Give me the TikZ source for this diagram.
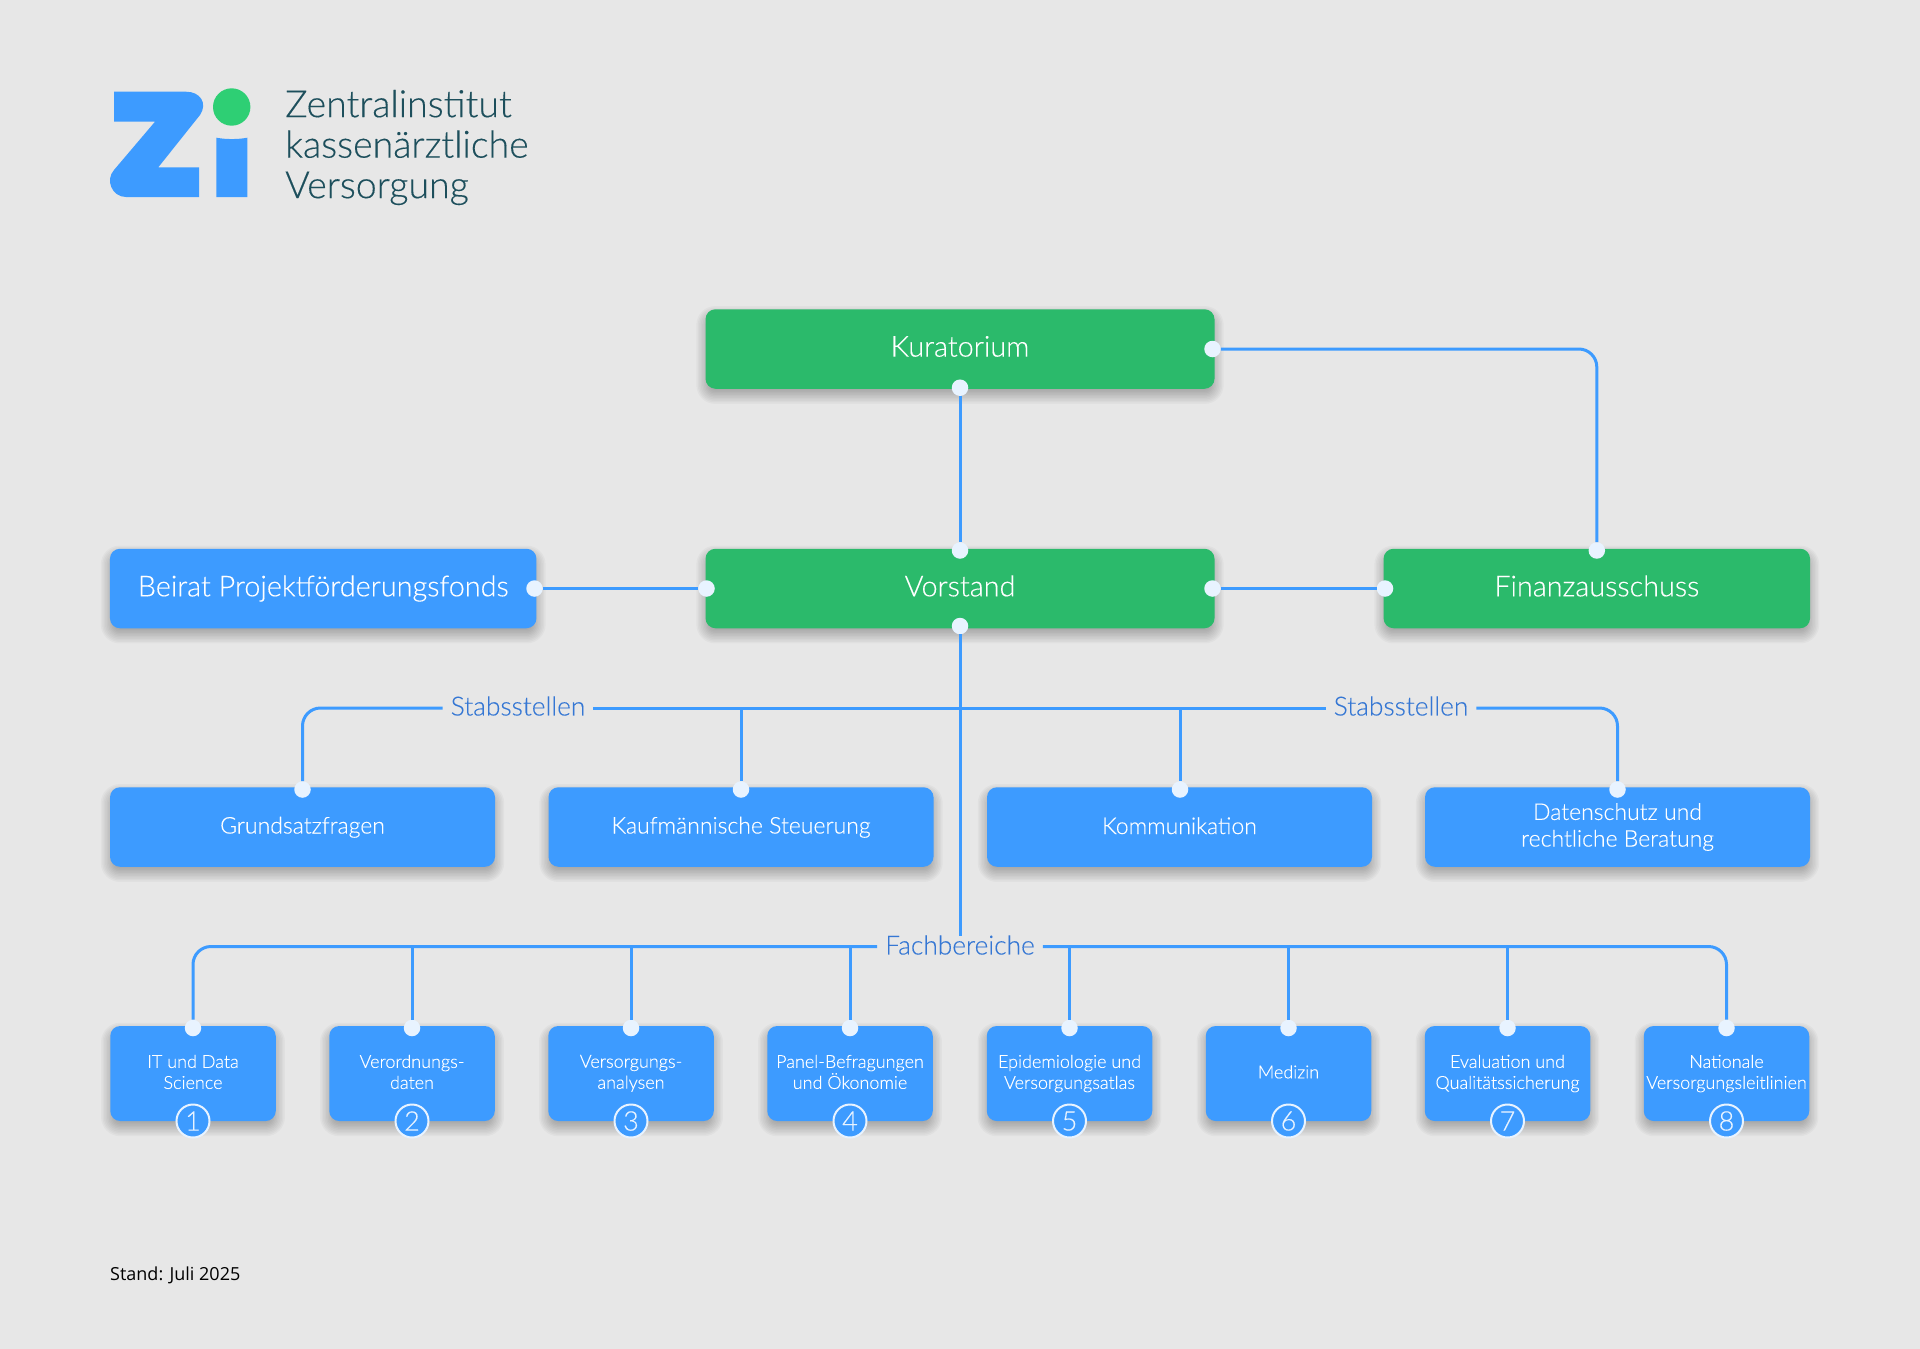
\documentclass[tikz,border=0pt]{standalone}
\usepackage{fontspec}
\setmainfont{Lato}[UprightFont=* Light,UprightFeatures={FakeBold=0.25}]
\newfontfamily\standfont{Open Sans}
\pgfdeclarelayer{shadowlayer}
\pgfsetlayers{shadowlayer,main}
\definecolor{bgc}{HTML}{E7E7E7}
\definecolor{zblue}{HTML}{3D9BFF}
\definecolor{zgreen}{HTML}{2BBA6B}
\definecolor{lgreen}{HTML}{2ECF74}
\definecolor{dotc}{HTML}{E8F3FF}
\definecolor{labc}{HTML}{3577D4}
\definecolor{teal}{HTML}{1D4F5C}
\tikzset{
  orgbox/.style={rectangle,rounded corners=10pt,inner sep=0pt,text=white,align=center,execute at begin node={\vphantom{Ag}},execute at end node={\vphantom{Ag}}},
  gbox/.style={orgbox,fill=zgreen,minimum width=509pt,minimum height=79.5pt,font=\fontsize{28.8}{32}\selectfont},
  bbig/.style={orgbox,fill=zblue,minimum width=426.5pt,minimum height=79.5pt,font=\fontsize{28.8}{32}\selectfont},
  bmid/.style={orgbox,fill=zblue,minimum width=385pt,minimum height=79.5pt,font=\fontsize{23}{26.7}\selectfont},
  bsmall/.style={orgbox,fill=zblue,minimum width=165.5pt,minimum height=95pt,font=\fontsize{18}{21}\selectfont},
  pin/.style={circle,fill=dotc,minimum size=16.5pt,inner sep=0pt},
  numc/.style={circle,fill=zblue,draw=dotc,line width=2pt,minimum size=33pt,inner sep=0pt,text=dotc,font=\fontsize{27}{30}\selectfont},
  conn/.style={draw=zblue,line width=3pt,rounded corners=18pt},
  grouplab/.style={inner xsep=8pt,inner ysep=0pt,text=labc,font=\fontsize{26.3}{28}\selectfont},
}
\begin{document}
\begin{tikzpicture}[x=1pt,y=-1pt]
\useasboundingbox (0,0) rectangle (1920,1349);
\begin{pgfonlayer}{shadowlayer}
\fill[bgc] (0,0) rectangle (1920,1349);
\end{pgfonlayer}
% logo
\fill[zblue] (114,91.7) -- (186,91.7) .. controls (200,91.7) and (208,103) .. (200,115) -- (158.3,167.3) -- (199,167.3) -- (199,197) -- (126,197) .. controls (112,197) and (105,180) .. (114,170) -- (155,121.7) -- (114,121.7) -- cycle;
\fill[zblue] (216.3,137.7) .. controls (226,139.5) and (238,139.5) .. (247.3,137.7) -- (247.3,197) -- (216.3,197) -- cycle;
\fill[lgreen] (231.7,107) circle (18.7);
\node[anchor=west,inner sep=0pt,text=teal,align=left,font=\fontsize{37.5}{40.5}\selectfont] (logotext) at (285,147.5) {Zentralinstitut\\kassenärztliche\\Versorgung};
% main boxes
\node[gbox] (kur) at (960,349) {Kuratorium};
\node[gbox] (vor) at (960,588.5) {Vorstand};
\node[bbig] (bei) at (323.2,588.5) {Beirat Projektförderungsfonds};
\node[gbox,minimum width=426.5pt] (fin) at (1596.8,588.5) {Finanzausschuss};
% Stabsstellen row
\node[bmid] (s1) at (302.5,827) {\raisebox{-1pt}{Grundsatzfragen}};
\node[bmid] (s2) at (741,827) {\raisebox{-1pt}{Kaufmännische Steuerung}};
\node[bmid] (s3) at (1179.5,827) {\raisebox{-1pt}{Kommunikation}};
\node[bmid] (s4) at (1617.5,827) {\raisebox{-1pt}{Datenschutz und}\\\raisebox{-1pt}{rechtliche Beratung}};
% Fachbereiche row
\node[bsmall] (f1) at (193,1073.5) {IT und Data\\Science};
\node[bsmall] (f2) at (412,1073.5) {Verordnungs-\\daten};
\node[bsmall] (f3) at (631,1073.5) {Versorgungs-\\analysen};
\node[bsmall] (f4) at (850,1073.5) {Panel-Befragungen\\und Ökonomie};
\node[bsmall] (f5) at (1069.5,1073.5) {Epidemiologie und\\Versorgungsatlas};
\node[bsmall] (f6) at (1288.5,1073.5) {Medizin};
\node[bsmall] (f7) at (1507.5,1073.5) {Evaluation und\\Qualitätssicherung};
\node[bsmall] (f8) at (1726.5,1073.5) {Nationale\\Versorgungsleitlinien};
% soft shadows behind the boxes
\begin{pgfonlayer}{shadowlayer}
\foreach \bx in {kur,vor,bei,fin,s1,s2,s3,s4,f1,f2,f3,f4,f5,f6,f7,f8}
  \foreach \rr in {-6,-4.5,...,9}{
    \pgfmathsetmacro{\cr}{max(10+\rr,2)}
    \fill[black,fill opacity=.026,rounded corners=\cr pt]
      ([shift={(-\rr,6-\rr)}]\bx.north west) rectangle ([shift={(\rr,6+\rr)}]\bx.south east);
  }
\end{pgfonlayer}
% numbers
\node[numc] (n1) at (193,1121) {1};
\node[numc] (n2) at (412,1121) {2};
\node[numc] (n3) at (631,1121) {3};
\node[numc] (n4) at (850,1121) {4};
\node[numc] (n5) at (1069.5,1121) {5};
\node[numc] (n6) at (1288.5,1121) {6};
\node[numc] (n7) at (1507.5,1121) {7};
\node[numc] (n8) at (1726.5,1121) {8};
% pins
\node[pin] (kurb) at (960,387.7) {};
\node[pin] (kurr) at (1212.5,349) {};
\node[pin] (vort) at (960,550.5) {};
\node[pin] (vorb) at (960,626) {};
\node[pin] (vorl) at (706.5,588.5) {};
\node[pin] (vorr) at (1212.5,588.5) {};
\node[pin] (beir) at (534.5,588.5) {};
\node[pin] (finl) at (1385,588.5) {};
\node[pin] (fint) at (1596.8,550.5) {};
\node[pin] (s1t) at (302.5,789.5) {};
\node[pin] (s2t) at (741,789.5) {};
\node[pin] (s3t) at (1180,789.5) {};
\node[pin] (s4t) at (1617.5,789.5) {};
\node[pin] (f1t) at (193,1028) {};
\node[pin] (f2t) at (412,1028) {};
\node[pin] (f3t) at (631,1028) {};
\node[pin] (f4t) at (850,1028) {};
\node[pin] (f5t) at (1069.5,1028) {};
\node[pin] (f6t) at (1288.5,1028) {};
\node[pin] (f7t) at (1507.5,1028) {};
\node[pin] (f8t) at (1726.5,1028) {};
% group labels
\node[grouplab] (ls1) at (518,706) {Stabsstellen};
\node[grouplab] (ls2) at (1401,706) {Stabsstellen};
\node[grouplab] (lf) at (960,945) {Fachbereiche};
\coordinate (js2) at (741,708);
\coordinate (js3) at (1180,708);
\coordinate (jf2) at (412,946.5);
\coordinate (jf3) at (631,946.5);
\coordinate (jf4) at (850,946.5);
\coordinate (jf5) at (1069.5,946.5);
\coordinate (jf6) at (1288.5,946.5);
\coordinate (jf7) at (1507.5,946.5);
% connectors
\draw[conn] (kurb) -- (vort);
\draw[conn] (kurr) -| (fint);
\draw[conn] (beir) -- (vorl);
\draw[conn] (vorr) -- (finl);
\draw[conn,shorten >=-1pt] (vorb) -- (lf.north);
\draw[conn] (ls1.west |- js2) -| (s1t);
\draw[conn] (ls1.east |- js2) -- (ls2.west |- js2);
\draw[conn] (ls2.east |- js2) -| (s4t);
\draw[conn] (js2) -- (s2t);
\draw[conn] (js3) -- (s3t);
\draw[conn] (lf.west |- jf2) -| (f1t);
\draw[conn] (lf.east |- jf2) -| (f8t);
\draw[conn] (jf2) -- (f2t);
\draw[conn] (jf3) -- (f3t);
\draw[conn] (jf4) -- (f4t);
\draw[conn] (jf5) -- (f5t);
\draw[conn] (jf6) -- (f6t);
\draw[conn] (jf7) -- (f7t);
% footer
\node[anchor=base west,inner sep=0pt,text=black,font=\standfont\fontsize{18}{22}\selectfont] (stand) at (110,1280) {Stand: Juli 2025};
\end{tikzpicture}
\end{document}
